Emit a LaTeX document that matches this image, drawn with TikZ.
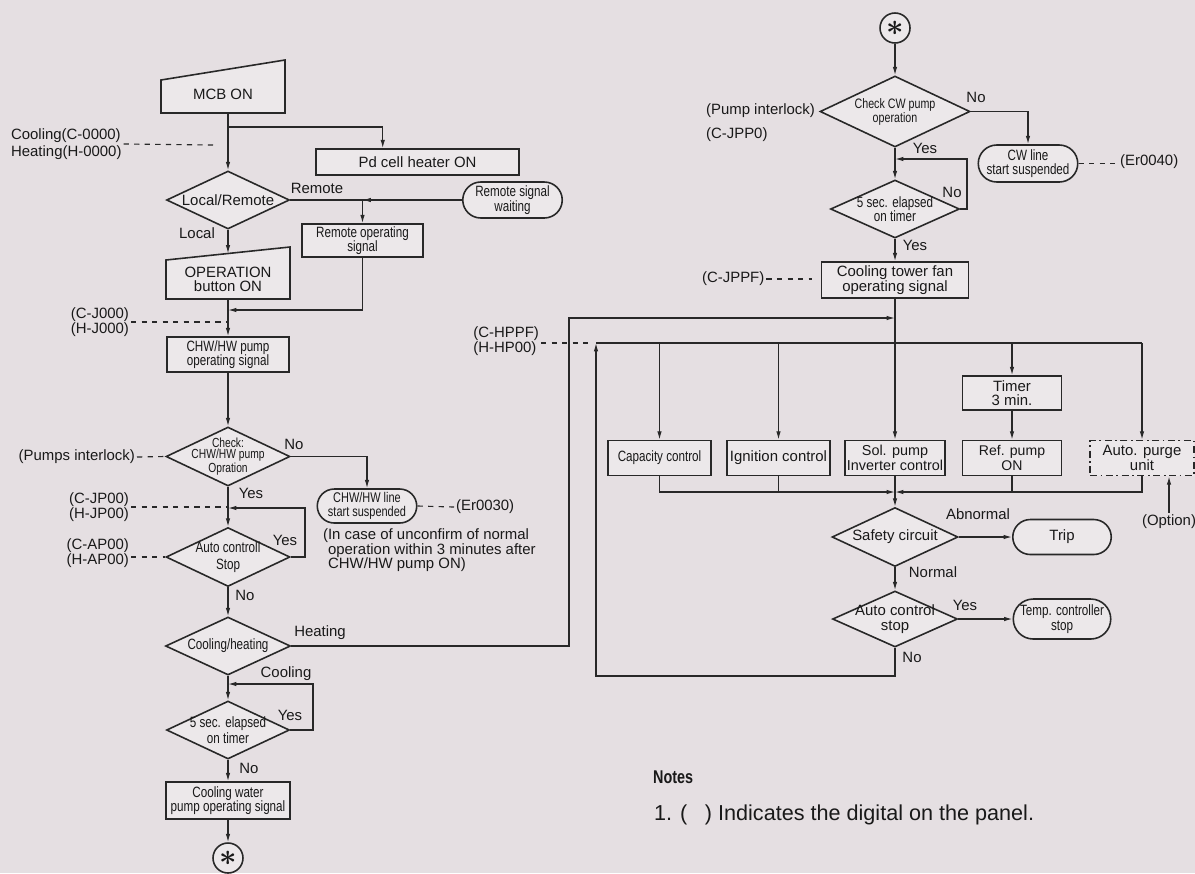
\documentclass[tikz,border=0pt]{standalone}
\usepackage{fontspec}
\setmainfont{Liberation Sans}
\newfontfamily\condfont[FakeStretch=0.78]{Liberation Sans}
\usepackage{xcolor}
\usepackage{tikz}
\usetikzlibrary{calc,shapes.geometric,shapes.misc,arrows.meta}
\definecolor{bgc}{RGB}{229,223,226}
\definecolor{boxc}{RGB}{236,232,234}
\definecolor{linec}{RGB}{40,40,40}
\definecolor{txtc}{RGB}{25,25,25}

\begin{document}
\begin{tikzpicture}[x=0.02cm, y=-0.02cm,
  every node/.style={text=txtc, font=\fontsize{8.5}{8.2}\selectfont},
  box/.style={rectangle, draw=linec, fill=boxc, line width=0.9pt, inner sep=1pt, align=center},
  term/.style={rounded rectangle, draw=linec, fill=boxc, line width=0.9pt, inner sep=1pt, align=center},
  decision/.style={diamond, draw=linec, fill=boxc, line width=0.9pt, inner sep=0pt},
  connector/.style={circle, draw=linec, fill=boxc, line width=0.9pt, minimum size=0.6cm, inner sep=0pt, font=\fontsize{16}{16}\selectfont\boldmath},
  dtext/.style={align=center, inner sep=0pt},
  cond/.style={font=\condfont\fontsize{8.5}{8.2}\selectfont},
  lbl/.style={inner sep=1pt, align=left},
  flow/.style={draw=linec, line width=0.7pt},
  arr/.style={flow, -{Latex[length=4.8pt,width=2.6pt]}},
  lead/.style={draw=linec, line width=0.65pt, dashed}]
  \fill[bgc] (0,0) rectangle (1195,873);
  \useasboundingbox (0,0) rectangle (1195,873);

  \filldraw[fill=boxc, draw=linec, line width=0.9pt] (161,113) -- (285,113) -- (285,60) -- (161,80) -- cycle;
  \node (mcb) [minimum width=2.48cm, minimum height=0.66cm, inner sep=0pt] at (223,94) {MCB ON};
  \node (pdh) [box, minimum width=4.06cm, minimum height=0.52cm] at (417.5,162) {Pd cell heater ON};
  \node (lr) [decision, minimum width=2.46cm, minimum height=1.16cm] at (228,200) {};
  \node (lrt) [dtext] at (lr) {Local/Remote};
  \node (rsw) [term, cond, minimum width=2.06cm, minimum height=0.72cm] at (512.5,200) {Remote signal\\waiting};
  \node (ros) [box, cond, minimum width=2.42cm, minimum height=0.66cm] at (362.5,240.5) {Remote operating\\signal};
  \filldraw[fill=boxc, draw=linec, line width=0.9pt] (166,299) -- (290,299) -- (290,247) -- (166,260) -- cycle;
  \node (opb) [minimum width=2.48cm, minimum height=0.78cm, inner sep=0pt, align=center] at (228,279.5) {OPERATION\\button ON};
  \coordinate (opbtop) at (228,253.5);
  \node (chw) [box, cond, minimum width=2.44cm, minimum height=0.7cm] at (228,354.5) {CHW/HW pump\\operating signal};
  \node (chk) [decision, minimum width=2.48cm, minimum height=1.18cm] at (228,456.5) {};
  \node (chkt) [dtext, font=\condfont\fontsize{7.5}{6.6}\selectfont] at (chk) {Check:\\CHW/HW pump\\Opration};
  \node (chwl) [term, font=\condfont\fontsize{8}{8.2}\selectfont, minimum width=2.06cm, minimum height=0.68cm] at (367,506) {CHW/HW line\\start suspended};
  \node (acs1) [decision, minimum width=2.48cm, minimum height=1.18cm] at (228,557) {};
  \node (acs1t) [dtext, font=\condfont\fontsize{8.5}{9.5}\selectfont] at (acs1) {Auto controll\\Stop};
  \node (ch) [decision, minimum width=2.5cm, minimum height=1.16cm] at (228,646) {};
  \node (cht) [dtext, cond] at (ch) {Cooling/heating};
  \node (t5a) [decision, minimum width=2.46cm, minimum height=1.16cm] at (228,730) {};
  \node (t5at) [dtext, font=\condfont\fontsize{8.5}{6.6}\selectfont] at (t5a) {5 sec. elapsed\\on timer};
  \node (cwp) [box, cond, minimum width=2.48cm, minimum height=0.74cm] at (228,800.5) {Cooling water\\pump operating signal};
  \node (sta) [connector] at (228,858) {$\ast$};

  \node (lcool) [lbl, anchor=west, font=\fontsize{8.5}{10}\selectfont] at (9,144) {Cooling(C-0000)\\Heating(H-0000)};
  \coordinate (lcoolend) at (213,145);
  \node (lremote) [lbl] at (317,188) {Remote};
  \node (llocal) [lbl] at (197,233) {Local};
  \node (lcj0) [lbl, anchor=east] at (131,322) {(C-J000)\\(H-J000)};
  \node (lpi) [lbl, anchor=east] at (137,457) {(Pumps interlock)};
  \node (lno1) [lbl] at (294,444) {No};
  \node (ler30) [lbl, anchor=west] at (454,507) {(Er0030)};
  \node (lcase) [lbl, anchor=north west] at (321,527) {(In case of unconfirm of normal\\\hphantom{(}operation within 3 minutes after\\\hphantom{(}CHW/HW pump ON)};
  \node (lyes1) [lbl] at (251,493) {Yes};
  \node (lcjp) [lbl, anchor=east] at (131,507) {(C-JP00)\\(H-JP00)};
  \node (lyes2) [lbl] at (285,540) {Yes};
  \node (lcap) [lbl, anchor=east] at (131,553) {(C-AP00)\\(H-AP00)};
  \node (lno2) [lbl] at (245,595) {No};
  \node (lheat) [lbl] at (320,633) {Heating};
  \node (lcoolg) [lbl] at (286,674) {Cooling};
  \node (lyes3) [lbl] at (290,715) {Yes};
  \node (lno3) [lbl] at (249,768) {No};

  \node (stb) [connector] at (895,28) {$\ast$};
  \node (cwc) [decision, minimum width=3.0cm, minimum height=1.42cm] at (895,111.5) {};
  \node (cwct) [dtext, font=\condfont\fontsize{7.8}{8}\selectfont] at (cwc) {Check CW pump\\operation};
  \node (lpil) [lbl, anchor=west] at (704,111) {(Pump interlock)};
  \node (lcjpp0) [lbl, anchor=west] at (704,135) {(C-JPP0)};
  \node (lno4) [lbl] at (976,97) {No};
  \node (cwl) [term, cond, minimum width=2.06cm, minimum height=0.74cm] at (1028,163.5) {CW line\\start suspended};
  \node (ler40) [lbl, anchor=west] at (1118,162) {(Er0040)};
  \node (lyes4) [lbl] at (925,148) {Yes};
  \node (t5b) [decision, minimum width=2.58cm, minimum height=1.16cm] at (895,209) {};
  \node (t5bt) [dtext, cond] at (t5b) {5 sec. elapsed\\on timer};
  \node (lno5) [lbl] at (952,192) {No};
  \node (lyes5) [lbl] at (915,245) {Yes};
  \node (ctf) [box, minimum width=2.94cm, minimum height=0.72cm] at (895,280) {Cooling tower fan\\operating signal};
  \node (lcjppf) [lbl, anchor=west] at (700,279) {(C-JPPF)};
  \coordinate (cjppfend) at (812,279);
  \node (lchppf) [lbl, anchor=east] at (541,341) {(C-HPPF)\\(H-HP00)};
  \coordinate (hppfend) at (591,343);

  \node (cap) [box, cond, minimum width=2.06cm, minimum height=0.7cm] at (659.5,458) {Capacity control};
  \node (ign) [box, minimum width=2.06cm, minimum height=0.7cm] at (778.5,458) {Ignition control};
  \node (sol) [box, minimum width=2.0cm, minimum height=0.7cm, font=\fontsize{8.2}{8.2}\selectfont] at (895,458) {Sol. pump\\Inverter control};
  \node (tmr) [box, minimum width=1.98cm, minimum height=0.68cm] at (1012,393) {Timer\\3 min.};
  \node (ref) [box, minimum width=1.98cm, minimum height=0.7cm, font=\fontsize{8}{7.2}\selectfont] at (1012,458) {Ref. pump\\ON};
  \node (apu) [box, dash pattern=on 4pt off 2pt on 1pt off 2pt, minimum width=2.08cm, minimum height=0.7cm] at (1142,458) {Auto. purge\\unit};
  \node (lopt) [lbl] at (1169,522) {(Option)};

  \node (sc) [decision, minimum width=2.52cm, minimum height=1.18cm] at (895,537) {};
  \node (sct) [dtext] at (sc) {Safety circuit};
  \node (labn) [lbl] at (978,514) {Abnormal};
  \node (trip) [term, minimum width=2.04cm, minimum height=0.7cm] at (1062,537) {Trip};
  \node (lnorm) [lbl] at (933,572) {Normal};
  \node (acs2) [decision, minimum width=2.5cm, minimum height=1.12cm] at (895,619) {};
  \node (acs2t) [dtext] at (acs2) {Auto control\\stop};
  \node (lyes6) [lbl] at (965,605) {Yes};
  \node (tcs) [term, cond, minimum width=2.02cm, minimum height=0.8cm] at (1062,619) {Temp. controller\\stop};
  \node (lno6) [lbl] at (912,657) {No};

  \node (lnotes) [lbl, anchor=west, font=\condfont\bfseries\fontsize{10.5}{12}\selectfont] at (651,777) {Notes};
  \node (lnote1) [lbl, anchor=west, font=\fontsize{12.3}{14}\selectfont] at (652,815) {1. (\hspace{10pt}) Indicates the digital on the panel.};

  \coordinate (brpd) at (228,127);
  \coordinate (rj) at (228,310);
  \coordinate (lp1) at (305,508);
  \coordinate (heat) at (569,318);
  \coordinate (lp2) at (313,684);
  \coordinate (lp3) at (967,159);
  \coordinate (ret) at (596,676);
  \coordinate (distL) at (596,343);
  \coordinate (distR) at (1142,343);
  \coordinate (col) at (895,492);

  \draw[arr] (lr.north |- 0,113) -- (lr.north);
  \draw[arr] (brpd) -| ($(pdh.north west)!0.33!(pdh.north east)$);
  \draw[flow] (lr.east) -- (rsw.west);
  \draw[arr] (rsw.west) -- (rsw.west -| ros.north);
  \draw[arr] (lr.east -| ros.north) -- (ros.north);
  \draw[arr] (ros.south) |- (rj);
  \draw[arr] (lr.south) -- (opbtop);
  \draw[arr] (lr.south |- opb.south) -- (chw.north);
  \draw[arr] (chw.south) -- (chk.north);
  \draw[arr] (chk.east) -| (chwl.north);
  \draw[arr] (chk.south) -- (acs1.north);
  \draw[arr] (acs1.east) -| (lp1) -- (lp1 -| chk.south);
  \draw[arr] (acs1.south) -- (ch.north);
  \draw[arr] (ch.east) -| (heat) -- (heat -| ctf.south);
  \draw[arr] (ch.south) -- (t5a.north);
  \draw[arr] (t5a.east) -| (lp2) -- (lp2 -| ch.south);
  \draw[arr] (t5a.south) -- (cwp.north);
  \draw[arr] (cwp.south) -- (sta.north);

  \draw[lead] (lcool.east) -- (lcoolend);
  \draw[lead] (lcj0.east) -- (lcj0.east -| chw.north);
  \draw[lead] (lpi.east) -- (chk.west);
  \draw[lead] (chwl.east) -- (ler30.west);
  \draw[lead] (lcjp.east) -- (lcjp.east -| chk.south);
  \draw[lead] (lcap.east |- acs1.west) -- (acs1.west);

  \draw[arr] (stb.south) -- (cwc.north);
  \draw[arr] (cwc.east) -| (cwl.north);
  \draw[arr] (cwc.south) -- (t5b.north);
  \draw[arr] (t5b.east) -| (lp3) -- (lp3 -| t5b.north);
  \draw[arr] (t5b.south) -- (ctf.north);
  \draw[arr] (ctf.south) -- (sol.north);
  \draw[arr] (acs2.south) |- (ret) -- (distL);
  \draw[flow] (distL) -- (distR);
  \draw[arr] (distL -| cap.north) -- (cap.north);
  \draw[arr] (distL -| ign.north) -- (ign.north);
  \draw[arr] (distL -| tmr.north) -- (tmr.north);
  \draw[arr] (distR) -- (apu.north);
  \draw[arr] (tmr.south) -- (ref.north);
  \draw[arr] (cap.south) |- (col);
  \draw[flow] (ign.south) -- (ign.south |- col);
  \draw[arr] (apu.south) |- (col);
  \draw[flow] (ref.south) -- (ref.south |- col);
  \draw[arr] (sol.south) -- (sc.north);
  \draw[arr] (sc.east) -- (trip.west);
  \draw[arr] (sc.south) -- (acs2.north);
  \draw[arr] (acs2.east) -- (tcs.west);
  \draw[arr] (lopt.north) -- (lopt.north |- apu.south);

  \draw[lead] (cwl.east) -- (cwl.east -| ler40.west);
  \draw[lead] (lcjppf.east) -- (cjppfend);
  \draw[lead] (lchppf.east |- hppfend) -- (hppfend);
\end{tikzpicture}
\end{document}
